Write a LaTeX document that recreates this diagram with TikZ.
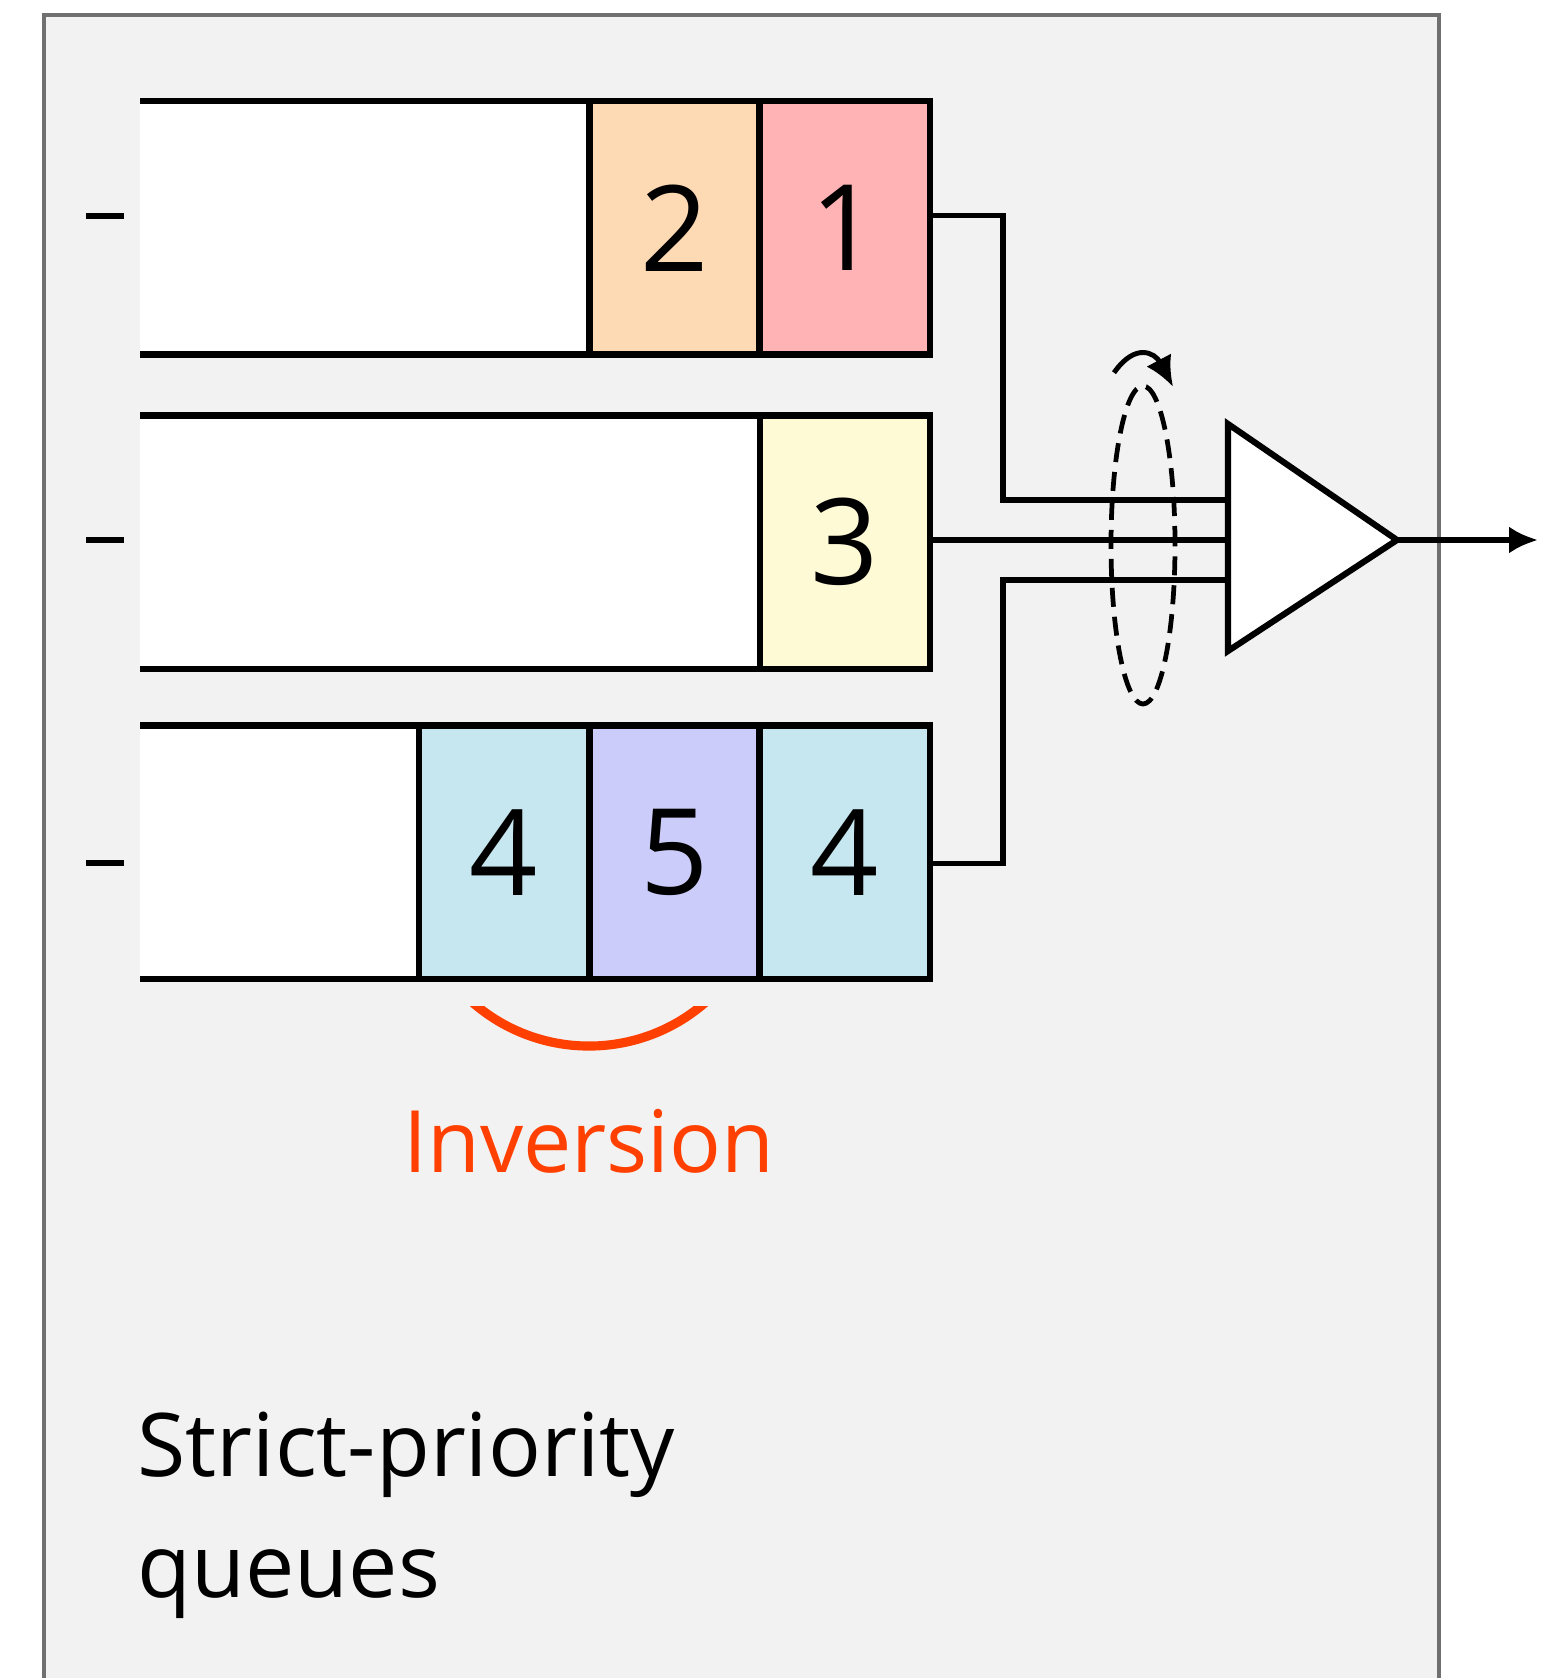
\documentclass[tikz,border=0pt]{standalone}
\usepackage{fontspec}
\setmainfont{Open Sans}
\usetikzlibrary{arrows.meta}

\definecolor{panel-gray}{HTML}{F2F2F2}
\definecolor{border-gray}{HTML}{707070}
\definecolor{pkt-red}{HTML}{FFB3B5}
\definecolor{pkt-orange}{HTML}{FDD9B4}
\definecolor{pkt-yellow}{HTML}{FEFAD6}
\definecolor{pkt-blue}{HTML}{C6E7EF}
\definecolor{pkt-violet}{HTML}{CCCCFA}
\definecolor{inv-red}{HTML}{FF4000}

\begin{document}
\begin{tikzpicture}[
 >={Latex[length=2.9mm,width=2.7mm]},
 panel/.style={fill=panel-gray,draw=border-gray,line width=0.9pt},
 qline/.style={line width=1.75pt},
 cell/.style={draw=black,rectangle,line width=1.75pt,inner sep=0,minimum width=1.7cm,minimum height=2.535cm,font=\fontsize{34}{40}\selectfont},
 link/.style={line width=1.5pt},
 rr-loop/.style={line width=1.35pt,dash pattern=on 0.19cm off 0.1cm},
 inversion/.style={draw=inv-red,line width=2.6pt}
]
\useasboundingbox (0,0) rectangle (15.57,-16.78);
\draw[panel] (0.44,-0.15) rectangle (14.39,-17.5);

% queue bodies, open at the left end
\fill[white] (1.40,-1.01) rectangle (9.30,-3.545);
\fill[white] (1.40,-4.155) rectangle (9.30,-6.69);
\fill[white] (1.40,-7.255) rectangle (9.30,-9.79);
\draw[qline] (1.40,-1.01) -- (9.30,-1.01) (1.40,-3.545) -- (9.30,-3.545);
\draw[qline] (1.40,-4.155) -- (9.30,-4.155) (1.40,-6.69) -- (9.30,-6.69);
\draw[qline] (1.40,-7.255) -- (9.30,-7.255) (1.40,-9.79) -- (9.30,-9.79);
\draw[qline] (0.86,-2.16) -- (1.24,-2.16) (0.86,-5.40) -- (1.24,-5.40) (0.86,-8.63) -- (1.24,-8.63);

% packets
\node (pkt-2) [cell,fill=pkt-orange] at (6.745,-2.2775) {2};
\node (pkt-1) [cell,fill=pkt-red] at (8.45,-2.2775) {1};
\node (pkt-3) [cell,fill=pkt-yellow] at (8.45,-5.4225) {3};
\node (pkt-4a) [cell,fill=pkt-blue] at (5.04,-8.5225) {4};
\node (pkt-5) [cell,fill=pkt-violet] at (6.745,-8.5225) {5};
\node (pkt-4b) [cell,fill=pkt-blue] at (8.45,-8.5225) {4};

% scheduler
\draw[qline,fill=white] (12.28,-4.24) coordinate (sched-top)
  -- (13.97,-5.40) coordinate (sched-out)
  -- (12.28,-6.51) coordinate (sched-bot) -- cycle;
\coordinate (sched-in-1) at (12.28,-5.00);
\coordinate (sched-in-2) at (12.28,-5.40);
\coordinate (sched-in-3) at (12.28,-5.80);
\coordinate (link-out) at (15.38,-5.40);

\draw[link] ([yshift=1.2mm]pkt-1.east) -- ++(0.70,0) |- (sched-in-1);
\draw[link] (sched-in-2 -| pkt-3.east) -- (sched-in-2);
\draw[link] ([yshift=-1.1mm]pkt-4b.east) -- ++(0.70,0) |- (sched-in-3);
\draw[link,->] (sched-out) -- (link-out);

% round robin over the inputs
\draw[rr-loop] (11.43,-5.45) ellipse [x radius=0.32,y radius=1.59];
\draw[line width=1.4pt,-{Latex[length=3mm,width=2.8mm]}] (11.14,-3.727) to[out=55,in=118,looseness=1.6] (11.73,-3.867);

% out-of-order packets
\begin{scope}
\clip (3,-10.06) rectangle (9,-11);
\draw[inversion] (4.638,-9.942) arc[start angle=-135,end angle=-45,radius=1.77];
\end{scope}
\node (inversion-label) [anchor=base,text=inv-red,font=\fontsize{24.5}{28}\selectfont] at (5.89,-11.72) {Inversion};

\node (queue-label) [anchor=base west,align=left,inner sep=0,font=\fontsize{25}{34.4}\selectfont] at (1.37,-15.97) {Strict-priority\\queues};
\end{tikzpicture}
\end{document}
